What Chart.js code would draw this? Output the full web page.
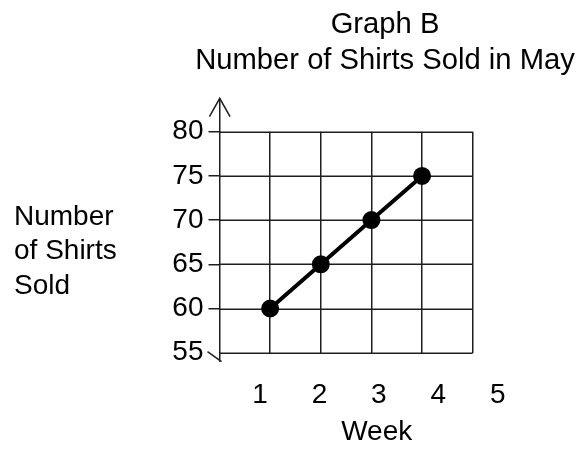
<!DOCTYPE html>
<html><head><meta charset="utf-8">
<script src="https://cdn.jsdelivr.net/npm/chart.js@4"></script>
<style>html,body{margin:0;padding:0;background:#fff}</style>
</head><body>
<canvas id="c" width="578" height="449"></canvas>
<script>
// ---- data ----
const titleLines = ['Graph B', 'Number of Shirts Sold in May'];
const yAxisLabelLines = ['Number', 'of Shirts', 'Sold'];
const xAxisLabel = 'Week';
const weeks = [1, 2, 3, 4];
const shirtsSold = [60, 65, 70, 75];
const weekTickLabels = [1, 2, 3, 4, 5];
const yMin = 55, yMax = 80, yStep = 5;

// ---- style ----
const FONT = '"Liberation Sans", Arial, sans-serif';
const gridColor = '#1e1e1e';
const ink = '#000';

const decor = {
  id: 'decor',
  beforeDatasetsDraw(chart) {
    const {ctx, chartArea: a, scales: {x, y}} = chart;
    const x0 = x.getPixelForValue(0);
    const x5 = x.getPixelForValue(weekTickLabels[weekTickLabels.length - 1]);
    ctx.save();
    ctx.strokeStyle = gridColor;
    ctx.lineWidth = 1.5;
    // horizontal grid lines only across the gridded block
    y.ticks.forEach(t => {
      const py = Math.round(y.getPixelForValue(t.value)) + 0.25;
      ctx.beginPath(); ctx.moveTo(x0, py); ctx.lineTo(x5, py); ctx.stroke();
    });
    // axis extension upward with arrow
    const ax = a.left + 0.25;
    const apex = a.top - 33.4;
    ctx.beginPath(); ctx.moveTo(ax, a.top); ctx.lineTo(ax, apex); ctx.stroke();
    ctx.beginPath();
    ctx.moveTo(ax - 10.3, apex + 18.4); ctx.lineTo(ax, apex); ctx.lineTo(ax + 10.3, apex + 18.4);
    ctx.stroke();
    // axis extension downward with break mark
    ctx.beginPath(); ctx.moveTo(ax, a.bottom); ctx.lineTo(ax, a.bottom + 9); ctx.stroke();
    ctx.beginPath(); ctx.moveTo(a.left - 12, a.bottom - 1); ctx.lineTo(a.left + 2, a.bottom + 9); ctx.stroke();
    ctx.restore();
  },
  afterDraw(chart) {
    const {ctx} = chart;
    ctx.save();
    ctx.fillStyle = ink;
    ctx.font = '28px ' + FONT;
    ctx.textAlign = 'left';
    ctx.textBaseline = 'alphabetic';
    const baselines = [225, 259.3, 293.6];
    yAxisLabelLines.forEach((s, i) => ctx.fillText(s, 14, baselines[i]));
    ctx.restore();
  }
};

new Chart(document.getElementById('c'), {
  type: 'line',
  data: {
    datasets: [{
      data: weeks.map((w, i) => ({x: w, y: shirtsSold[i]})),
      borderColor: ink,
      backgroundColor: ink,
      borderWidth: 4,
      pointRadius: 7,
      pointHoverRadius: 7,
      pointBackgroundColor: ink,
      pointBorderColor: ink,
      tension: 0,
      fill: false,
      xAxisID: 'x',
      yAxisID: 'y'
    }]
  },
  options: {
    responsive: false,
    animation: false,
    events: [],
    layout: {padding: {left: 150, right: -42, top: 0, bottom: 0}},
    plugins: {
      legend: {display: false},
      tooltip: {enabled: false},
      title: {
        display: true,
        text: titleLines,
        color: ink,
        font: {family: FONT, size: 29.2, weight: 'normal', lineHeight: 1.233},
        padding: {top: 6.5, bottom: 53.2}
      }
    },
    scales: {
      x: {
        type: 'linear',
        position: 'bottom',
        min: 0,
        max: 6.2085,
        afterBuildTicks: s => { s.ticks = weekTickLabels.map(v => ({value: v})); },
        grid: {display: true, drawTicks: false, color: gridColor, lineWidth: 1.5},
        border: {display: false},
        ticks: {display: false},
        afterFit: s => { s.height = 0; }
      },
      x2: {
        type: 'linear',
        position: 'bottom',
        min: 0.3185,
        max: 5.609,
        afterBuildTicks: s => { s.ticks = weekTickLabels.map(v => ({value: v})); },
        grid: {display: false, drawTicks: false},
        border: {display: false},
        ticks: {color: ink, font: {family: FONT, size: 28}, padding: 26, maxRotation: 0, autoSkip: false},
        title: {display: true, text: xAxisLabel, color: ink, font: {family: FONT, size: 28}, padding: {top: 0, bottom: 0}},
        afterFit: s => { s.height = 96.3; }
      },
      y: {
        type: 'linear',
        position: 'left',
        min: yMin,
        max: yMax,
        ticks: {stepSize: yStep, color: ink, font: {family: FONT, size: 28}, padding: 5},
        grid: {
          drawOnChartArea: false,
          drawTicks: true,
          tickLength: 11,
          lineWidth: 1.5,
          color: gridColor,
          tickColor: c => (c.tick && c.tick.value === yMin) ? 'rgba(0,0,0,0)' : gridColor
        },
        border: {display: true, color: gridColor, width: 1.5},
        afterFit: s => { s.width = 69.5; }
      },
      yR: {
        type: 'linear',
        position: 'right',
        grid: {display: false},
        border: {display: false},
        ticks: {display: false},
        afterFit: s => { s.width = 86.1; }
      }
    }
  },
  plugins: [decor]
});
</script>
</body></html>
